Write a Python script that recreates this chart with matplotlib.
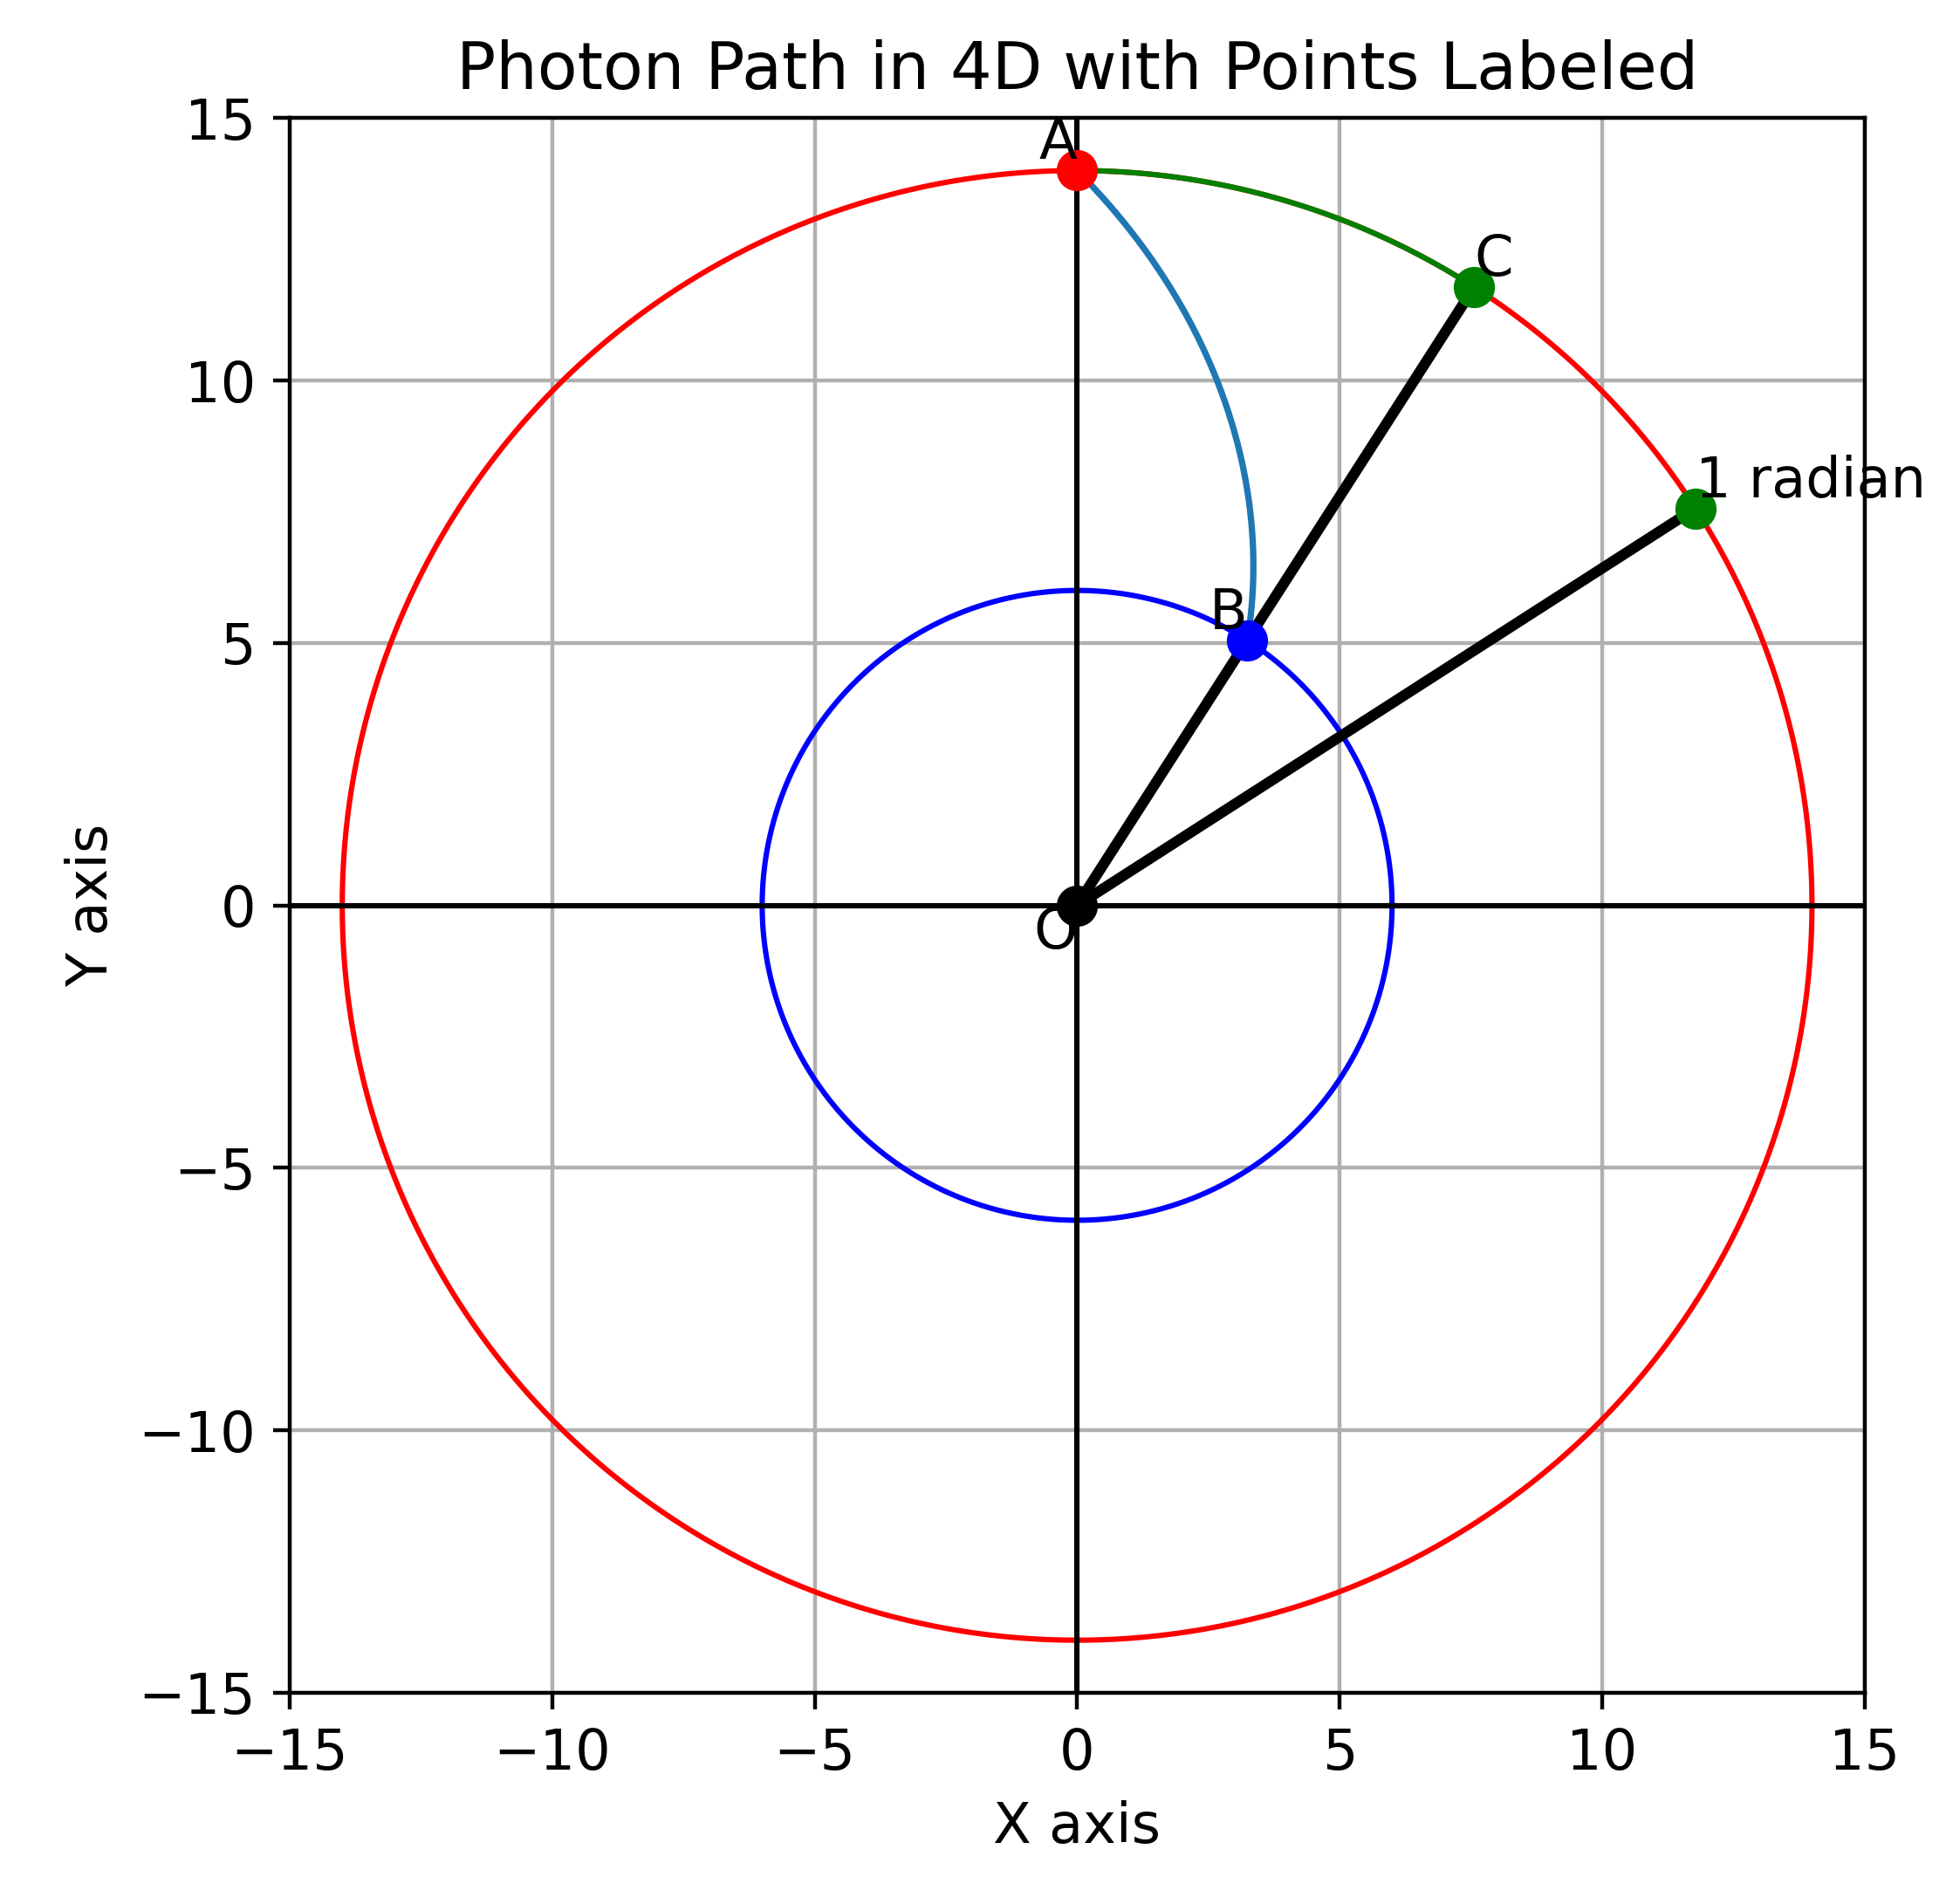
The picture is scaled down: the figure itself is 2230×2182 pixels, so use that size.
import numpy as np
import matplotlib
matplotlib.use("Agg")
import matplotlib.pyplot as plt

R_outer = 14
R_inner = 6
angle_C = 1.0                # radians from x-axis
angle_rad_pt = np.pi/2 - 1.0
labels = ["A", "B", "C", "O", "1 radian"]

fig = plt.figure(figsize=(5.575, 5.455), dpi=400)
ax = fig.add_axes([0.147, 0.111, 0.813, 0.827])

t = np.linspace(0, 2*np.pi, 500)
ax.plot(R_outer*np.cos(t), R_outer*np.sin(t), color='red', lw=1.1)
ax.plot(R_inner*np.cos(t), R_inner*np.sin(t), color='blue', lw=1.1)

s = np.linspace(0, 1, 200)
ang = np.pi/2 + (angle_C - np.pi/2)*s
r = R_outer + (R_inner - R_outer)*s
ax.plot(r*np.cos(ang), r*np.sin(ang), color='tab:blue', lw=1.3)
a2 = np.linspace(np.pi/2, angle_C, 100)
ax.plot(R_outer*np.cos(a2), R_outer*np.sin(a2), color='green', lw=1.1)

ax.axhline(0, color='black', lw=1.1)
ax.axvline(0, color='black', lw=1.1)

A = (0, R_outer)
B = (R_inner*np.cos(angle_C), R_inner*np.sin(angle_C))
C = (R_outer*np.cos(angle_C), R_outer*np.sin(angle_C))
P = (R_outer*np.cos(angle_rad_pt), R_outer*np.sin(angle_rad_pt))
O = (0, 0)

ax.plot([O[0], C[0]], [O[1], C[1]], color='black', lw=2.2)
ax.plot([O[0], P[0]], [O[1], P[1]], color='black', lw=2.2)

ms = 7.5
ax.plot(*A, 'o', color='red', ms=ms)
ax.plot(*B, 'o', color='blue', ms=ms)
ax.plot(*C, 'o', color='green', ms=ms)
ax.plot(*P, 'o', color='green', ms=ms)
ax.plot(*O, 'o', color='black', ms=ms)

fs = 11.5
ax.text(A[0], A[1], labels[0], ha='right', va='bottom', fontsize=fs)
ax.text(B[0], B[1], labels[1], ha='right', va='bottom', fontsize=fs)
ax.text(C[0], C[1], labels[2], ha='left', va='bottom', fontsize=fs)
ax.text(O[0], O[1], labels[3], ha='right', va='top', fontsize=fs)
ax.text(P[0], P[1], labels[4], ha='left', va='bottom', fontsize=fs)

ax.set_xlim(-15, 15)
ax.set_ylim(-15, 15)
ax.set_aspect('equal')
ax.grid(True)
ax.tick_params(labelsize=11.5)
ax.set_xlabel('X axis', fontsize=11.5)
ax.set_ylabel('Y axis', fontsize=11.5)
ax.set_title('Photon Path in 4D with Points Labeled', fontsize=13.5)

fig.savefig('out.png')
